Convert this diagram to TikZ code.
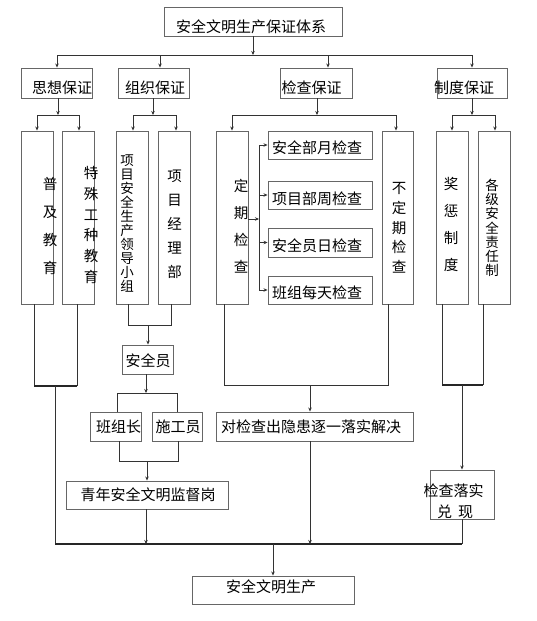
\documentclass[tikz,border=0pt]{standalone}
\usepackage{fontspec}
\setmainfont{Noto Sans CJK SC}
\usetikzlibrary{arrows.meta}
\newcommand\mybox[8]{%
  \node[box, minimum width={(#4-#2)*1pt}, minimum height={(#5-#3)*1pt}] (#1) at ({(#2+#4)/2},{(#3+#5)/2}) {};
  \node[txt] (#1t) at ({(#2+#4)/2+#6},{(#3+#5)/2+#7}) {#8};}
\begin{document}
\begin{tikzpicture}[x=1pt,y=-1pt,
  box/.style={draw=black!60, line width=0.9pt, inner sep=0pt},
  txt/.style={inner sep=0pt, font=\fontsize{15}{16}\selectfont},
  vtxt/.style={inner sep=0pt, align=center},
  ln/.style={draw=black!80, line width=0.8pt},
  thk/.style={draw=black!85, line width=1.3pt},
  arr/.style={ln, -{Stealth[length=4pt,width=3.5pt]}}]
\useasboundingbox[fill=white] (0,0) rectangle (537,621);

% level 0
\mybox{T}{164}{7}{342}{36}{-2}{5}{安全文明生产保证体系}
% level 1
\mybox{A}{21}{68}{92}{98}{5.5}{5}{思想保证}
\mybox{B}{118}{68}{189}{98}{1.5}{5}{组织保证}
\mybox{C}{280}{68}{352}{98}{-4.5}{5}{检查保证}
\mybox{D}{437}{68}{507}{98}{-8}{5}{制度保证}

\coordinate (b0) at (253,55);
\coordinate (bL) at (57,55);
\coordinate (bB) at (160,55);
\coordinate (bC) at (328,55);
\coordinate (bR) at (472,55);
\draw[arr] (T.south -| b0) -- (b0);
\draw[ln] (bL) -- (bR);
\draw[arr] (bL) -- (bL |- A.north);
\draw[arr] (bB) -- (bB |- B.north);
\draw[arr] (bC) -- (bC |- C.north);
\draw[arr] (bR) -- (bR |- D.north);

% level 2 boxes
\mybox{A1}{21}{131}{53}{304}{0}{0}{}
\mybox{A2}{62}{131}{94}{304}{0}{0}{}
\mybox{B1}{116}{131}{148}{304}{0}{0}{}
\mybox{B2}{158}{131}{190}{304}{0}{0}{}
\mybox{C1}{216}{131}{248}{304}{0}{0}{}
\mybox{C3}{382}{131}{413}{304}{0}{0}{}
\mybox{D1}{436}{131}{468}{304}{0}{0}{}
\mybox{D2}{478}{131}{510}{304}{0}{0}{}
\mybox{K1}{268}{131}{372}{159}{-3}{3}{安全部月检查}
\mybox{K2}{268}{181}{372}{209}{-3}{4}{项目部周检查}
\mybox{K3}{268}{228}{372}{257}{-3}{3.5}{安全员日检查}
\mybox{K4}{268}{276}{372}{304}{-3}{2.5}{班组每天检查}

% vertical texts
\node[vtxt, font=\fontsize{14.5}{27.7}\selectfont] (vA1) at (50,226) {普\\及\\教\\育};
\node[vtxt, font=\fontsize{14.5}{20.7}\selectfont] (vA2) at (91,225) {特\\殊\\工\\种\\教\\育};
\node[vtxt, font=\fontsize{13.5}{14}\selectfont] (vB1) at (127,224) {项\\目\\安\\全\\生\\产\\领\\导\\小\\组};
\node[vtxt, font=\fontsize{14.5}{24}\selectfont] (vB2) at (174.5,224.5) {项\\目\\经\\理\\部};
\node[vtxt, font=\fontsize{14.5}{27}\selectfont] (vC1) at (241,226) {定\\期\\检\\查};
\node[vtxt, font=\fontsize{14.5}{19.7}\selectfont] (vC3) at (399,228) {不\\定\\期\\检\\查};
\node[vtxt, font=\fontsize{14.5}{27}\selectfont] (vD1) at (451,224) {奖\\惩\\制\\度};
\node[vtxt, font=\fontsize{13.5}{14.2}\selectfont] (vD2) at (492,228) {各\\级\\安\\全\\责\\任\\制};

% level 1 -> level 2 connectors
\coordinate (a0) at (58,115);
\coordinate (aL) at (37,115);
\coordinate (aR) at (79,115);
\draw[arr] (A.south -| a0) -- (a0);
\draw[ln] (aL) -- (aR);
\draw[arr] (aL) -- (aL |- A1.north);
\draw[arr] (aR) -- (aR |- A2.north);

\coordinate (o0) at (153,115);
\coordinate (oL) at (133,115);
\coordinate (oR) at (176,115);
\draw[arr] (B.south -| o0) -- (o0);
\draw[ln] (oL) -- (oR);
\draw[arr] (oL) -- (oL |- B1.north);
\draw[arr] (oR) -- (oR |- B2.north);

\coordinate (c0) at (317,115);
\coordinate (cL) at (232,115);
\coordinate (cR) at (396,115);
\draw[arr] (C.south -| c0) -- (c0);
\draw[ln] (cL) -- (cR);
\draw[arr] (cL) -- (cL |- C1.north);
\draw[arr] (cR) -- (cR |- C3.north);

\coordinate (d0) at (472,115);
\coordinate (dL) at (452,115);
\coordinate (dR) at (495,115);
\draw[arr] (D.south -| d0) -- (d0);
\draw[ln] (dL) -- (dR);
\draw[arr] (dL) -- (dL |- D1.north);
\draw[arr] (dR) -- (dR |- D2.north);

% bracket for periodic inspections
\coordinate (kx) at (259,219);
\draw[ln] (kx |- K1.west) -- (kx |- K4.west);
\draw[arr] (C1.east |- kx) -- (kx);
\draw[arr] (kx |- K1.west) -- (K1.west);
\draw[arr] (kx |- K2.west) -- (K2.west);
\draw[arr] (kx |- K3.west) -- (K3.west);
\draw[arr] (kx |- K4.west) -- (K4.west);

% lower boxes
\mybox{S}{122}{345}{173}{374}{0.5}{1}{安全员}
\mybox{G1}{90}{412}{141}{441}{3}{0}{班组长}
\mybox{G2}{152}{412}{202}{441}{1}{0}{施工员}
\mybox{Y}{66}{481}{228}{509}{1}{0}{青年安全文明监督岗}
\mybox{J}{216}{412}{413}{441}{-3.5}{0.5}{对检查出隐患逐一落实解决}
\mybox{Z}{192}{576}{354}{604}{-2}{-3.5}{安全文明生产}
\mybox{L}{430}{470}{494}{519}{0}{0}{}
\node[txt] (Lt1) at (453.5,491) {检查落实};
\node[txt] (Lt2) at (455,512) {兑\hspace{6pt}现};

% thought group
\coordinate (p1) at (34,386);
\coordinate (p2) at (77,386);
\coordinate (pm) at (55,386);
\draw[ln] (A1.south -| p1) -- (p1);
\draw[ln] (A2.south -| p2) -- (p2);
\draw[thk] (p1) -- (p2);

% bottom bus
\coordinate (busL) at (55,544);
\coordinate (busR) at (462,544);
\coordinate (busY) at (146,544);
\coordinate (busJ) at (310,544);
\coordinate (busZ) at (273,544);
\draw[ln] (pm) -- (busL);
\draw[thk] (busL) -- (busR);

% organisation group
\coordinate (q1) at (128,325);
\coordinate (q2) at (171,325);
\coordinate (qm) at (148,325);
\draw[ln] (B1.south -| q1) -- (q1) -- (q2) -- (B2.south -| q2);
\draw[arr] (qm) -- (qm |- S.north);
\coordinate (s0) at (146,393);
\coordinate (sL) at (117,393);
\coordinate (sR) at (177,393);
\draw[arr] (S.south -| s0) -- (s0);
\draw[ln] (G1.north -| sL) -- (sL) -- (sR) -- (G2.north -| sR);
\coordinate (g1) at (119,461);
\coordinate (g2) at (178,461);
\coordinate (gm) at (147,461);
\draw[ln] (G1.south -| g1) -- (g1) -- (g2) -- (G2.south -| g2);
\draw[arr] (gm) -- (gm |- Y.north);
\draw[arr] (Y.south -| busY) -- (busY);

% inspection group
\coordinate (r1) at (224,385);
\coordinate (r2) at (388,385);
\coordinate (rm) at (310,385);
\draw[ln] (C1.south -| r1) -- (r1) -- (r2) -- (C3.south -| r2);
\draw[arr] (rm) -- (rm |- J.north);
\draw[arr] (J.south -| busJ) -- (busJ);

% system group
\coordinate (e1) at (442,385);
\coordinate (e2) at (483,385);
\coordinate (em) at (462,385);
\draw[ln] (D1.south -| e1) -- (e1);
\draw[ln] (D2.south -| e2) -- (e2);
\draw[thk] (e1) -- (e2);
\draw[arr] (em) -- (em |- L.north);
\draw[ln] (L.south -| busR) -- (busR);

% final
\draw[arr] (busZ) -- (busZ |- Z.north);
\end{tikzpicture}
\end{document}
